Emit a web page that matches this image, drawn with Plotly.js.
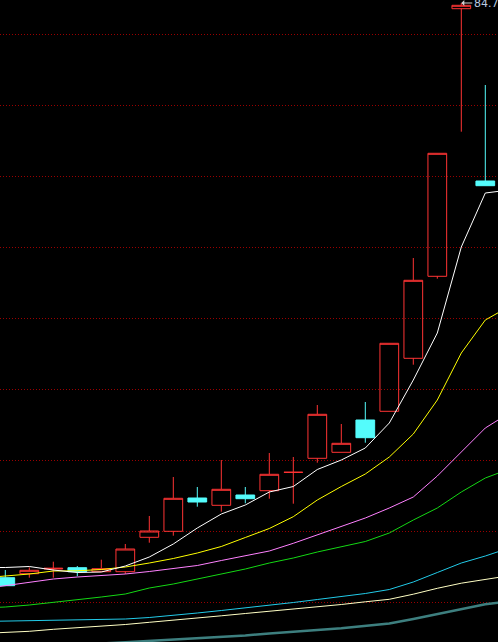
<!DOCTYPE html>
<html>
<head>
<meta charset="utf-8">
<script src="https://cdn.plot.ly/plotly-3.0.1.min.js"></script>
<style>
  html, body { margin: 0; padding: 0; background: #000; overflow: hidden; }
  #chart { width: 498px; height: 642px; }
</style>
</head>
<body>
<div id="chart"></div>
<script>
// ---- data (bar index 0..20) ----
const barIndex = [0,1,2,3,4,5,6,7,8,9,10,11,12,13,14,15,16,17,18,19,20];
const openP  = [27.28,27.68,28.15,28.28,27.88,27.88,31.32,31.92,35.25,34.52,35.55,35.98,37.82,39.22,39.82,43.05,43.92,49.22,57.42,84.18,66.95];
const highP  = [28.05,28.32,28.88,28.45,29.08,30.65,33.45,37.35,36.35,39.05,36.35,39.75,39.35,44.55,42.65,44.85,50.72,59.25,69.72,84.75,76.55];
const lowP   = [26.48,27.28,27.28,27.42,27.88,27.65,30.78,31.48,34.38,33.88,34.72,35.18,34.68,38.78,39.82,40.78,43.92,48.58,57.18,71.88,66.48];
const closeP = [26.48,28.02,28.22,27.88,28.18,30.15,31.95,35.22,34.85,36.12,35.18,37.62,37.82,43.62,40.72,41.28,50.72,57.02,69.72,84.52,66.48];

// moving averages, read at bar positions -1..21 (lines run past both edges)
const maIndex = [-1,0,1,2,3,4,5,6,7,8,9,10,11,12,13,14,15,16,17,18,19,20,21];
const ma5   = [28.30,28.30,28.40,28.05,27.80,27.85,28.45,29.35,30.65,32.25,33.65,34.55,35.85,36.40,38.10,39.05,40.25,42.75,47.05,51.75,60.35,65.75,66.05];
const ma10  = [27.25,27.42,27.65,27.95,27.97,28.10,28.35,28.75,29.20,29.75,30.40,31.30,32.20,33.38,35.05,36.40,37.65,39.35,41.65,45.05,49.75,53.05,54.40];
const ma20  = [26.15,26.50,26.85,27.15,27.35,27.50,27.65,27.90,28.20,28.50,29.00,29.45,29.95,30.72,31.55,32.35,33.25,34.25,35.35,37.45,39.85,42.25,43.75];
const ma30  = [24.25,24.35,24.55,24.80,25.05,25.35,25.65,26.25,26.65,27.15,27.70,28.15,28.75,29.25,29.85,30.35,30.90,31.75,33.05,34.25,35.85,37.25,38.15];
const ma60  = [22.90,22.95,22.95,23.00,23.05,23.10,23.15,23.30,23.50,23.75,24.00,24.25,24.50,24.80,25.10,25.40,25.70,26.10,26.85,27.80,28.75,29.45,30.25];
const ma120 = [21.70,21.82,21.92,22.12,22.27,22.40,22.60,22.82,23.02,23.25,23.47,23.70,23.92,24.15,24.35,24.60,24.87,25.12,25.63,26.22,26.73,27.13,27.48];
const ma250 = [20.00,20.15,20.30,20.45,20.60,20.70,20.82,20.95,21.05,21.20,21.35,21.50,21.70,21.90,22.05,22.22,22.45,22.71,23.15,23.65,24.10,24.63,24.90];

// grid levels (no labels shown)
const gridLevels = [24.85,31.95,39.05,46.15,53.25,60.35,67.45,74.55,81.65];

// ---- styles ----
const upColor = '#ff3434';
const downColor = '#54fcfc';
const maLines = [
  {y: ma250, color: '#3d7f7f', width: 2.5},
  {y: ma120, color: '#ffffc4', width: 1},
  {y: ma60,  color: '#22cbe9', width: 1},
  {y: ma30,  color: '#14d814', width: 1},
  {y: ma20,  color: '#ff80ff', width: 1},
  {y: ma10,  color: '#ffff00', width: 1},
  {y: ma5,   color: '#ffffff', width: 1}
];

const traces = maLines.map(m => ({
  type: 'scatter', mode: 'lines', x: maIndex, y: m.y,
  line: {color: m.color, width: m.width}, hoverinfo: 'skip', showlegend: false
}));

traces.push({
  type: 'candlestick', x: barIndex,
  open: openP, high: highP, low: lowP, close: closeP,
  increasing: {line: {color: upColor, width: 1}, fillcolor: 'rgba(0,0,0,0)'},
  decreasing: {line: {color: downColor, width: 1}, fillcolor: downColor},
  whiskerwidth: 0, showlegend: false, hoverinfo: 'skip'
});

// label for the highest high
let hi = 0;
for (let i = 1; i < highP.length; i++) if (highP[i] > highP[hi]) hi = i;

const layout = {
  width: 498, height: 642,
  margin: {l: 0, r: 0, t: 0, b: 0, pad: 0},
  paper_bgcolor: '#000', plot_bgcolor: '#000',
  showlegend: false,
  boxgap: 0.22, boxgroupgap: 0,
  xaxis: {
    range: [-0.221, 20.529], showgrid: false, zeroline: false,
    showticklabels: false, ticks: '', showline: false,
    rangeslider: {visible: false}, fixedrange: true
  },
  yaxis: {
    range: [20.85, 85.05], tickmode: 'array', tickvals: gridLevels,
    showticklabels: false, ticks: '', zeroline: false, showline: false,
    showgrid: true, gridcolor: '#9a0000', gridwidth: 1, griddash: '1px,2px',
    fixedrange: true
  },
  annotations: [{
    x: barIndex[hi], y: highP[hi], xref: 'x', yref: 'y',
    text: highP[hi].toFixed(2), showarrow: true,
    ax: 11, ay: 0, xanchor: 'left', yanchor: 'middle',
    arrowhead: 1, arrowsize: 1, arrowwidth: 1, arrowcolor: '#d0d0d0', standoff: 0,
    font: {family: 'DejaVu Sans', size: 11, color: '#b9cbe0'}
  }]
};

Plotly.newPlot('chart', traces, layout, {displayModeBar: false, staticPlot: true});
</script>
</body>
</html>
